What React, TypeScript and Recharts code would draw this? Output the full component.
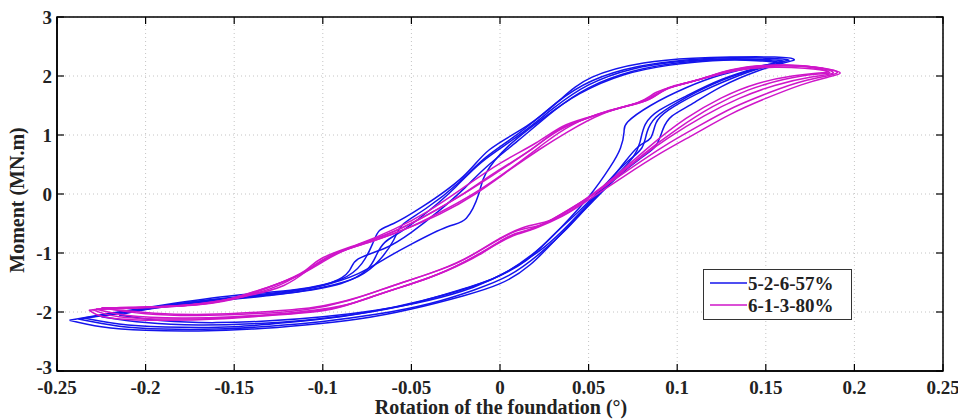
import { LineChart, Line, XAxis, YAxis, CartesianGrid, Legend, ReferenceArea, Label } from 'recharts'

const xTicks = [-0.25, -0.2, -0.15, -0.1, -0.05, 0, 0.05, 0.1, 0.15, 0.2, 0.25]
const yTicks = [-3, -2, -1, 0, 1, 2, 3]

const seriesNames = ['5-2-6-57%', '6-1-3-80%']

// 5-2-6-57% : each loop = lower branch (left -> right) then upper branch (right -> left)
const bluePath1: [number, number][] = [
  [-0.243, -2.14], [-0.225, -2.25], [-0.2, -2.31], [-0.17, -2.32], [-0.14, -2.29], [-0.11, -2.22],
  [-0.08, -2.12], [-0.05, -1.95], [-0.02, -1.72], [0.0, -1.52], [0.017, -1.2], [0.035, -0.66],
  [0.05, -0.2], [0.065, 0.25], [0.08, 0.62], [0.088, 0.82], [0.092, 1.1], [0.097, 1.32],
  [0.108, 1.52], [0.125, 1.82], [0.145, 2.08], [0.16, 2.22], [0.166, 2.28],
  [0.155, 2.32], [0.13, 2.32], [0.109, 2.3], [0.081, 2.22], [0.052, 1.98], [0.034, 1.6],
  [0.015, 1.15], [-0.006, 0.75], [-0.021, 0.29], [-0.044, -0.22], [-0.06, -0.5], [-0.068, -0.62],
  [-0.072, -0.85], [-0.078, -1.18], [-0.09, -1.45], [-0.115, -1.62], [-0.15, -1.72],
  [-0.19, -1.88], [-0.22, -2.02], [-0.243, -2.14],
]
const bluePath2: [number, number][] = [
  [-0.235, -2.1], [-0.21, -2.22], [-0.18, -2.26], [-0.15, -2.25], [-0.12, -2.18], [-0.09, -2.08],
  [-0.06, -1.92], [-0.03, -1.7], [-0.005, -1.45], [0.015, -1.12], [0.03, -0.7], [0.045, -0.28],
  [0.06, 0.18], [0.072, 0.55], [0.08, 0.78], [0.083, 1.05], [0.088, 1.3], [0.1, 1.55],
  [0.12, 1.86], [0.14, 2.08], [0.155, 2.2], [0.16, 2.25],
  [0.15, 2.28], [0.125, 2.29], [0.1, 2.24], [0.075, 2.12], [0.05, 1.85], [0.03, 1.45],
  [0.01, 0.98], [-0.01, 0.55], [-0.025, 0.12], [-0.04, -0.28], [-0.055, -0.62], [-0.065, -0.82],
  [-0.07, -1.05], [-0.075, -1.28], [-0.09, -1.52], [-0.12, -1.68], [-0.16, -1.8],
  [-0.2, -1.95], [-0.235, -2.1],
]
const bluePath3: [number, number][] = [
  [-0.225, -2.08], [-0.2, -2.18], [-0.17, -2.22], [-0.14, -2.2], [-0.11, -2.14], [-0.08, -2.03],
  [-0.05, -1.86], [-0.02, -1.6], [0.0, -1.38], [0.02, -0.98], [0.035, -0.55], [0.05, -0.05],
  [0.062, 0.45], [0.068, 0.78], [0.07, 1.05], [0.072, 1.22], [0.085, 1.5], [0.105, 1.8],
  [0.125, 2.02], [0.145, 2.16], [0.155, 2.22],
  [0.145, 2.26], [0.12, 2.26], [0.095, 2.18], [0.07, 2.02], [0.045, 1.7], [0.025, 1.3],
  [0.005, 0.82], [-0.008, 0.35], [-0.012, 0.0], [-0.019, -0.41], [-0.03, -0.56], [-0.05, -0.85],
  [-0.065, -1.1], [-0.08, -1.35], [-0.1, -1.55], [-0.13, -1.7], [-0.17, -1.82],
  [-0.2, -1.94], [-0.225, -2.08],
]
const bluePath4: [number, number][] = [
  [-0.215, -2.05], [-0.19, -2.15], [-0.16, -2.18], [-0.13, -2.15], [-0.1, -2.08], [-0.07, -1.97],
  [-0.04, -1.8], [-0.015, -1.58], [0.005, -1.3], [0.025, -0.9], [0.04, -0.48], [0.055, 0.0],
  [0.068, 0.45], [0.078, 0.8], [0.085, 0.95], [0.088, 1.2], [0.095, 1.42], [0.11, 1.68],
  [0.13, 1.95], [0.148, 2.14], [0.158, 2.22],
  [0.148, 2.27], [0.125, 2.28], [0.1, 2.22], [0.075, 2.08], [0.05, 1.8], [0.03, 1.4],
  [0.01, 0.9], [-0.008, 0.45], [-0.02, 0.1], [-0.035, -0.3], [-0.05, -0.65], [-0.065, -0.92],
  [-0.08, -1.1], [-0.085, -1.3], [-0.095, -1.5], [-0.12, -1.65], [-0.16, -1.78],
  [-0.19, -1.9], [-0.215, -2.05],
]
const bluePath5: [number, number][] = [
  [-0.238, -2.12], [-0.215, -2.24], [-0.19, -2.29], [-0.16, -2.29], [-0.13, -2.24], [-0.1, -2.16],
  [-0.07, -2.04], [-0.04, -1.86], [-0.015, -1.63], [0.005, -1.38], [0.022, -1.02], [0.038, -0.58],
  [0.052, -0.12], [0.066, 0.32], [0.075, 0.62], [0.079, 0.88], [0.082, 1.18], [0.09, 1.42],
  [0.105, 1.66], [0.125, 1.94], [0.145, 2.14], [0.158, 2.24], [0.163, 2.27],
  [0.152, 2.3], [0.128, 2.31], [0.105, 2.27], [0.078, 2.16], [0.052, 1.92], [0.032, 1.55],
  [0.012, 1.06], [-0.008, 0.62], [-0.023, 0.2], [-0.042, -0.25], [-0.055, -0.52], [-0.06, -0.78],
  [-0.068, -1.12], [-0.08, -1.4], [-0.1, -1.58], [-0.13, -1.72], [-0.17, -1.84],
  [-0.205, -1.98], [-0.238, -2.12],
]

// 6-1-3-80%
const magentaPath1: [number, number][] = [
  [-0.232, -1.97], [-0.22, -2.1], [-0.19, -2.14], [-0.16, -2.12], [-0.13, -2.06], [-0.1, -1.98],
  [-0.08, -1.82], [-0.06, -1.62], [-0.04, -1.42], [-0.02, -1.15], [0.0, -0.82], [0.01, -0.68],
  [0.02, -0.58], [0.035, -0.38], [0.05, -0.1], [0.07, 0.3], [0.09, 0.68], [0.11, 1.02],
  [0.13, 1.35], [0.15, 1.62], [0.17, 1.85], [0.185, 1.98], [0.192, 2.05],
  [0.185, 2.12], [0.17, 2.17], [0.15, 2.18], [0.13, 2.1], [0.11, 1.92], [0.095, 1.8],
  [0.085, 1.62], [0.07, 1.48], [0.05, 1.3], [0.035, 1.14], [0.02, 0.86], [0.0, 0.52],
  [-0.02, 0.12], [-0.04, -0.28], [-0.06, -0.6], [-0.08, -0.85], [-0.1, -1.08], [-0.11, -1.3],
  [-0.125, -1.52], [-0.15, -1.78], [-0.18, -1.9], [-0.21, -1.92], [-0.232, -1.97],
]
const magentaPath2: [number, number][] = [
  [-0.228, -1.95], [-0.21, -2.06], [-0.18, -2.1], [-0.15, -2.08], [-0.12, -2.02], [-0.09, -1.9],
  [-0.07, -1.72], [-0.05, -1.52], [-0.03, -1.3], [-0.01, -1.0], [0.005, -0.72], [0.015, -0.62],
  [0.025, -0.5], [0.04, -0.25], [0.055, 0.05], [0.075, 0.52], [0.095, 0.95], [0.115, 1.32],
  [0.135, 1.62], [0.155, 1.84], [0.175, 1.98], [0.188, 2.05],
  [0.18, 2.14], [0.165, 2.18], [0.145, 2.16], [0.125, 2.05], [0.105, 1.88], [0.092, 1.76],
  [0.082, 1.58], [0.065, 1.44], [0.045, 1.24], [0.03, 1.02], [0.015, 0.7], [-0.005, 0.3],
  [-0.025, -0.08], [-0.045, -0.42], [-0.065, -0.7], [-0.085, -0.92], [-0.1, -1.15], [-0.115, -1.4],
  [-0.135, -1.62], [-0.16, -1.83], [-0.19, -1.91], [-0.228, -1.95],
]
const magentaPath3: [number, number][] = [
  [-0.225, -1.93], [-0.2, -2.03], [-0.17, -2.06], [-0.14, -2.03], [-0.11, -1.96], [-0.085, -1.8],
  [-0.065, -1.6], [-0.045, -1.4], [-0.025, -1.18], [-0.008, -0.9], [0.008, -0.64], [0.02, -0.55],
  [0.03, -0.42], [0.045, -0.15], [0.06, 0.15], [0.08, 0.65], [0.1, 1.1], [0.12, 1.48],
  [0.14, 1.76], [0.16, 1.94], [0.178, 2.03], [0.186, 2.06],
  [0.175, 2.15], [0.16, 2.17], [0.14, 2.13], [0.12, 2.0], [0.1, 1.84], [0.088, 1.72],
  [0.078, 1.55], [0.06, 1.4], [0.04, 1.16], [0.025, 0.86], [0.01, 0.52], [-0.01, 0.1],
  [-0.03, -0.25], [-0.05, -0.55], [-0.07, -0.78], [-0.09, -0.98], [-0.105, -1.22], [-0.12, -1.48],
  [-0.14, -1.7], [-0.17, -1.86], [-0.2, -1.92], [-0.225, -1.93],
]
const magentaPath4: [number, number][] = [
  [-0.22, -1.95], [-0.195, -2.02], [-0.165, -2.04], [-0.135, -2.0], [-0.105, -1.92], [-0.08, -1.75],
  [-0.06, -1.55], [-0.04, -1.35], [-0.02, -1.1], [-0.004, -0.82], [0.012, -0.58], [0.025, -0.48],
  [0.035, -0.35], [0.05, -0.05], [0.065, 0.3], [0.085, 0.82], [0.105, 1.28], [0.125, 1.63],
  [0.145, 1.87], [0.165, 2.0], [0.18, 2.05], [0.185, 2.08],
  [0.172, 2.13], [0.155, 2.15], [0.135, 2.1], [0.115, 1.96], [0.098, 1.82], [0.086, 1.66],
  [0.075, 1.52], [0.058, 1.36], [0.038, 1.05], [0.022, 0.75], [0.006, 0.42], [-0.014, 0.0],
  [-0.034, -0.34], [-0.054, -0.6], [-0.074, -0.82], [-0.094, -1.02], [-0.108, -1.28], [-0.122, -1.55],
  [-0.145, -1.74], [-0.175, -1.88], [-0.2, -1.93], [-0.22, -1.95],
]
const magentaPath5: [number, number][] = [
  [-0.23, -1.96], [-0.215, -2.08], [-0.185, -2.12], [-0.155, -2.1], [-0.125, -2.04], [-0.095, -1.94],
  [-0.075, -1.77], [-0.055, -1.57], [-0.035, -1.36], [-0.015, -1.07], [0.002, -0.77], [0.012, -0.65],
  [0.022, -0.54], [0.038, -0.32], [0.052, -0.02], [0.072, 0.4], [0.092, 0.8], [0.112, 1.15],
  [0.132, 1.47], [0.152, 1.72], [0.172, 1.92], [0.19, 2.05],
  [0.182, 2.13], [0.168, 2.18], [0.148, 2.17], [0.128, 2.08], [0.108, 1.9], [0.094, 1.78],
  [0.084, 1.6], [0.068, 1.46], [0.048, 1.27], [0.032, 1.07], [0.018, 0.76], [-0.002, 0.38],
  [-0.022, -0.02], [-0.042, -0.37], [-0.062, -0.66], [-0.082, -0.88], [-0.1, -1.12], [-0.112, -1.35],
  [-0.13, -1.57], [-0.155, -1.8], [-0.185, -1.9], [-0.23, -1.96],
]

const BLUE = '#1414ec'
const MAGENTA = '#cf16c9'
const FONT = '"Liberation Serif", "Times New Roman", serif'

const bluePaths = [bluePath1, bluePath5, bluePath2, bluePath3, bluePath4]
const magentaPaths = [magentaPath1, magentaPath5, magentaPath2, magentaPath3, magentaPath4]

const toPoints = (path: [number, number][]) => path.map(([x, y]) => ({ x, y }))

// plot box size, used for the inward ticks on the top and right edges
const PLOT_W = 886
const PLOT_H = 354
const TICK = 7

function BottomTick(props: any) {
  const { x, y, payload } = props
  const axisY = y - 8
  return (
    <g>
      <line x1={x} x2={x} y1={axisY} y2={axisY - TICK} stroke="#000" strokeWidth={1.2} />
      <line x1={x} x2={x} y1={axisY - PLOT_H} y2={axisY - PLOT_H + TICK} stroke="#000" strokeWidth={1.2} />
      <text x={x} y={y} dy={15} textAnchor="middle" fontFamily={FONT} fontWeight="bold" fontSize={19} fill="#222">
        {String(payload.value)}
      </text>
    </g>
  )
}

function LeftTick(props: any) {
  const { x, y, payload } = props
  const axisX = x + 5
  // lowest label sits tight against the x tick labels, nudge it up a little
  const dy = payload.value === -3 ? 3 : 6.5
  return (
    <g>
      <line x1={axisX} x2={axisX + TICK} y1={y} y2={y} stroke="#000" strokeWidth={1.2} />
      <line x1={axisX + PLOT_W} x2={axisX + PLOT_W - TICK} y1={y} y2={y} stroke="#000" strokeWidth={1.2} />
      <text x={x} y={y} dy={dy} textAnchor="end" fontFamily={FONT} fontWeight="bold" fontSize={19} fill="#222">
        {String(payload.value)}
      </text>
    </g>
  )
}

function LegendBox() {
  return (
    <svg width={149} height={51} style={{ display: 'block' }}>
      <rect x={0.5} y={0.5} width={148} height={50} fill="#fff" stroke="#333" strokeWidth={1} />
      <line x1={7} x2={44} y1={14} y2={14} stroke={BLUE} strokeWidth={1.6} />
      <text x={45} y={14} dy={6.5} fontFamily={FONT} fontWeight="bold" fontSize={19} fill="#222">
        {seriesNames[0]}
      </text>
      <line x1={7} x2={44} y1={36} y2={36} stroke={MAGENTA} strokeWidth={1.6} />
      <text x={45} y={36} dy={6.5} fontFamily={FONT} fontWeight="bold" fontSize={19} fill="#222">
        {seriesNames[1]}
      </text>
    </svg>
  )
}

export default function App() {
  return (
    <div style={{ position: 'relative', width: 966, height: 419, margin: '-8px 0 0 -8px', background: '#fff' }}>
      <LineChart width={966} height={419} margin={{ top: 17, right: 23, left: 7, bottom: 0 }}>
        <CartesianGrid stroke="#c4c4c4" strokeDasharray="1 3" />
        <XAxis
          dataKey="x"
          type="number"
          domain={[-0.25, 0.25]}
          ticks={xTicks}
          allowDataOverflow
          height={48}
          tickSize={0}
          tickMargin={8}
          tick={BottomTick}
          axisLine={{ stroke: '#000', strokeWidth: 1.5 }}
        >
          <Label
            content={({ viewBox }: any) => (
              <text
                x={viewBox.x + viewBox.width / 2 + 1}
                y={viewBox.y + 43}
                textAnchor="middle"
                fontFamily={FONT}
                fontWeight="bold"
                fontSize={20}
                fill="#222"
              >
                Rotation of the foundation (°)
              </text>
            )}
          />
        </XAxis>
        <YAxis
          dataKey="y"
          type="number"
          domain={[-3, 3]}
          ticks={yTicks}
          allowDataOverflow
          width={50}
          tickSize={0}
          tickMargin={5}
          tick={LeftTick}
          axisLine={{ stroke: '#000', strokeWidth: 1.5 }}
        >
          <Label
            content={({ viewBox }: any) => {
              const cx = 17
              const cy = viewBox.y + viewBox.height / 2 + 6
              return (
                <text
                  x={cx}
                  y={cy}
                  transform={`rotate(-90 ${cx} ${cy})`}
                  textAnchor="middle"
                  dominantBaseline="central"
                  fontFamily={FONT}
                  fontWeight="bold"
                  fontSize={20}
                  fill="#222"
                >
                  Moment (MN.m)
                </text>
              )
            }}
          />
        </YAxis>
        <ReferenceArea x1={-0.25} x2={0.25} y1={-3} y2={3} fill="none" stroke="#000" strokeWidth={1.5} />
        {bluePaths.map((p, i) => (
          <Line
            key={'b' + i}
            data={toPoints(p)}
            dataKey="y"
            name={seriesNames[0]}
            type="natural"
            stroke={BLUE}
            strokeWidth={1.5}
            dot={false}
            activeDot={false}
            isAnimationActive={false}
          />
        ))}
        {magentaPaths.map((p, i) => (
          <Line
            key={'m' + i}
            data={toPoints(p)}
            dataKey="y"
            name={seriesNames[1]}
            type="natural"
            stroke={MAGENTA}
            strokeWidth={1.5}
            dot={false}
            activeDot={false}
            isAnimationActive={false}
          />
        ))}
        <Legend
          layout="horizontal"
          verticalAlign="middle"
          align="center"
          content={() => <LegendBox />}
          wrapperStyle={{ position: 'absolute', left: 703, top: 269, width: 149, height: 51 }}
        />
      </LineChart>
    </div>
  )
}
